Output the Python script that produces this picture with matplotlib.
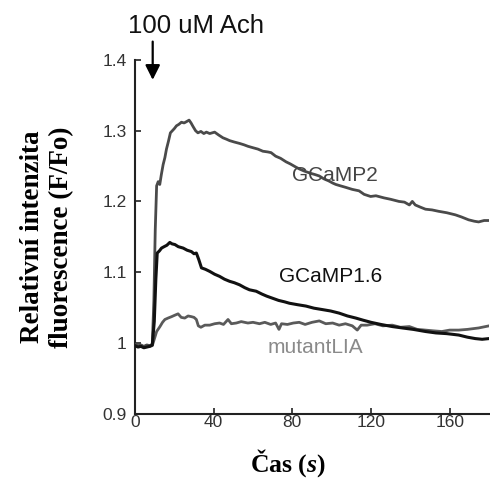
"""Fluorescence response to 100 uM ACh for GCaMP variants."""

import matplotlib
matplotlib.use("Agg")
import matplotlib.pyplot as plt

SANS = "Liberation Sans"
SERIF = "Liberation Serif"

plt.rcParams["mathtext.fontset"] = "custom"
plt.rcParams["mathtext.it"] = "Liberation Serif:italic:bold"
plt.rcParams["mathtext.rm"] = "Liberation Serif:bold"

# Time axis (s) and relative fluorescence F/Fo
gcamp2_t = [0, 1.5, 3, 4.5, 6, 7.5, 8.8, 9.6, 10.3, 11.0, 11.8, 12.6, 13.4, 14.3, 15.2,
            16.0, 17.0, 18.0, 19.0, 20.0, 21.1, 22.3, 23.6, 25.0, 26.3, 27.5, 28.5, 29.5,
            30.8, 32.0, 33.5, 35.0, 36.3, 38.0, 40.5, 42.5, 44.7, 46.5, 48.1, 50.5, 53.2,
            55.5, 57.4, 59.9, 62.5, 65.0, 67.5, 69.2, 71.5, 74.0, 76.8, 79.0, 81.5, 83.5,
            86.0, 89.0, 91.5, 93.7, 96.0, 98.5, 100.5, 102.1, 104.5, 107.0, 110.5, 113.9,
            116.5, 119.8, 122.5, 126.6, 130.0, 134.2, 137.0, 139.5, 141.0, 142.5, 145.0,
            147.7, 151.0, 154.4, 158.5, 162.9, 166.0, 169.6, 172.5, 174.7, 177.5, 180]
gcamp2_v = [0.998, 0.996, 0.997, 0.995, 0.997, 0.996, 0.998, 1.06, 1.16, 1.222, 1.228,
            1.224, 1.238, 1.252, 1.262, 1.274, 1.285, 1.297, 1.300, 1.303, 1.307, 1.309,
            1.312, 1.311, 1.313, 1.315, 1.311, 1.306, 1.300, 1.297, 1.299, 1.296, 1.298,
            1.296, 1.298, 1.294, 1.290, 1.288, 1.286, 1.284, 1.282, 1.280, 1.278, 1.276,
            1.274, 1.271, 1.270, 1.269, 1.264, 1.261, 1.256, 1.253, 1.249, 1.246, 1.243,
            1.240, 1.238, 1.236, 1.232, 1.229, 1.226, 1.224, 1.222, 1.220, 1.217, 1.215,
            1.210, 1.207, 1.208, 1.205, 1.203, 1.200, 1.199, 1.195, 1.200, 1.195, 1.192,
            1.189, 1.188, 1.186, 1.184, 1.181, 1.178, 1.174, 1.172, 1.171, 1.173, 1.173]

gcamp16_t = [0, 1.5, 3, 4.5, 6, 7.5, 8.8, 9.8, 10.6, 11.3, 12.4, 13.5, 14.8, 16.2, 17.7,
             18.8, 20.3, 22.0, 24.5, 26.5, 28.7, 30.0, 31.2, 32.4, 33.8, 35.8, 38.0, 40.5,
             43.0, 45.5, 48.1, 50.5, 53.2, 55.8, 58.2, 61.6, 64.5, 67.0, 70.0, 73.0, 76.0,
             78.5, 82.5, 86.9, 91.0, 95.3, 99.5, 103.8, 108.0, 112.3, 116.0, 120.0, 125.0,
             130.8, 136.0, 141.5, 147.7, 153.0, 158.5, 164.6, 169.0, 173.0, 176.5, 180]
gcamp16_v = [0.996, 0.994, 0.995, 0.993, 0.994, 0.995, 0.997, 1.03, 1.09, 1.127, 1.130,
             1.134, 1.136, 1.138, 1.142, 1.140, 1.139, 1.136, 1.134, 1.131, 1.129, 1.126,
             1.127, 1.118, 1.106, 1.104, 1.101, 1.097, 1.094, 1.090, 1.087, 1.085, 1.082,
             1.078, 1.075, 1.073, 1.069, 1.066, 1.063, 1.060, 1.058, 1.056, 1.054, 1.052,
             1.049, 1.047, 1.045, 1.042, 1.038, 1.035, 1.032, 1.029, 1.026, 1.023, 1.021,
             1.019, 1.016, 1.014, 1.013, 1.011, 1.008, 1.006, 1.005, 1.006]

mutant_t = [0, 1.5, 3, 4.5, 6, 7.5, 8.8, 9.8, 11.0, 12.7, 14.0, 15.2, 16.8, 18.6, 20.2,
            21.9, 23.5, 25.3, 27.0, 28.7, 30.0, 31.2, 32.2, 33.5, 35.5, 38.0, 40.5, 43.0,
            45.0, 47.3, 49.0, 51.5, 54.0, 57.4, 60.0, 63.3, 66.0, 69.0, 71.5, 73.2, 74.5,
            77.5, 80.5, 83.5, 86.5, 90.0, 93.7, 97.0, 100.5, 103.8, 107.0, 110.5, 113.0,
            115.0, 118.0, 122.0, 126.0, 130.8, 135.0, 139.5, 143.5, 147.7, 151.5, 156.0,
            160.0, 164.6, 169.0, 174.7, 180]
mutant_v = [0.997, 0.995, 0.996, 0.994, 0.996, 0.995, 0.996, 1.005, 1.016, 1.023, 1.029,
            1.033, 1.035, 1.037, 1.039, 1.041, 1.036, 1.035, 1.038, 1.037, 1.036, 1.033,
            1.024, 1.022, 1.025, 1.025, 1.027, 1.028, 1.026, 1.033, 1.027, 1.028, 1.030,
            1.028, 1.029, 1.027, 1.029, 1.026, 1.028, 1.019, 1.027, 1.026, 1.028, 1.029,
            1.026, 1.029, 1.031, 1.027, 1.028, 1.025, 1.027, 1.024, 1.018, 1.025, 1.025,
            1.027, 1.024, 1.025, 1.022, 1.023, 1.019, 1.018, 1.017, 1.016, 1.018, 1.018,
            1.019, 1.021, 1.024]

x_ticks = [0, 40, 80, 120, 160]
y_ticks = [0.9, 1.0, 1.1, 1.2, 1.3, 1.4]
y_tick_labels = ["0.9", "1", "1.1", "1.2", "1.3", "1.4"]
stim_time = 9


def main():
    fig = plt.figure(figsize=(4.9, 4.79), dpi=100)
    ax = fig.add_axes([0.2755, 0.1367, 0.7225, 0.738])

    ax.plot(mutant_t, mutant_v, color="#5a5a5a", linewidth=2, zorder=2)
    ax.plot(gcamp2_t, gcamp2_v, color="#4a4a4a", linewidth=2, zorder=3)
    ax.plot(gcamp16_t, gcamp16_v, color="#111111", linewidth=2.2, zorder=4)

    ax.set_xlim(0, 180)
    ax.set_ylim(0.9, 1.4)
    ax.set_xticks(x_ticks)
    ax.set_yticks(y_ticks)
    ax.set_yticklabels(y_tick_labels)

    for spine in ["top", "right"]:
        ax.spines[spine].set_visible(False)
    for spine in ["left", "bottom"]:
        ax.spines[spine].set_linewidth(1.5)
        ax.spines[spine].set_color("#222222")

    ax.tick_params(axis="both", direction="in", length=4, width=1.2, color="#222222",
                   labelsize=12.5, labelcolor="#333333")
    ax.tick_params(axis="y", pad=6)
    ax.tick_params(axis="x", pad=1)
    for lbl in ax.get_xticklabels() + ax.get_yticklabels():
        lbl.set_family(SANS)

    # Series labels
    ax.text(80, 1.236, "GCaMP2", fontsize=15, family=SANS, color="#444444", va="center")
    ax.text(73, 1.094, "GCaMP1.6", fontsize=15, family=SANS, color="#111111", va="center")
    ax.text(67.5, 0.994, "mutantLIA", fontsize=15, family=SANS, color="#8a8a8a", va="center")

    # Stimulus arrow
    ax.annotate("", xy=(stim_time, 1.368), xytext=(stim_time, 1.43),
                arrowprops=dict(arrowstyle="-|>", color="black", lw=1.6, mutation_scale=22),
                annotation_clip=False)
    fig.text(0.261, 0.931, "100 uM Ach", fontsize=18.5, family=SANS, color="#111111",
             va="baseline", ha="left")

    ax.set_xlabel("Čas ($s$)", fontsize=18.5, family=SERIF, fontweight="bold")
    ax.xaxis.set_label_coords(0.432, -0.095)
    ax.set_ylabel("Relativní intenzita\nfluorescence (F/Fo)", fontsize=19.5, family=SERIF,
                  fontweight="bold", labelpad=20, linespacing=1.22)

    fig.savefig("out.png", dpi=100, facecolor="white")
    plt.close(fig)


if __name__ == "__main__":
    main()
